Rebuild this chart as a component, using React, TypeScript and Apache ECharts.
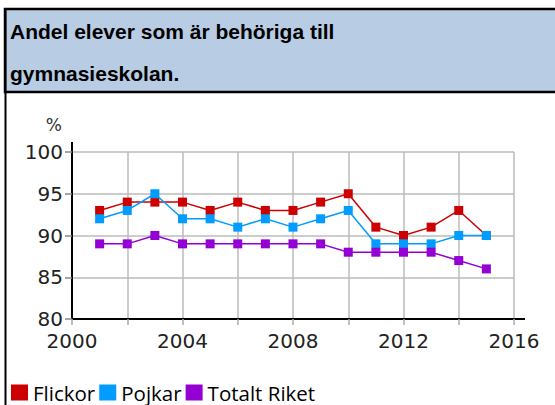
import React, { useEffect, useRef } from "react";
import * as echarts from "echarts";

const years = [2001, 2002, 2003, 2004, 2005, 2006, 2007, 2008, 2009, 2010, 2011, 2012, 2013, 2014, 2015];
const flickor = [93, 94, 94, 94, 93, 94, 93, 93, 94, 95, 91, 90, 91, 93, 90];
const pojkar = [92, 93, 95, 92, 92, 91, 92, 91, 92, 93, 89, 89, 89, 90, 90];
const totalt = [89, 89, 90, 89, 89, 89, 89, 89, 89, 88, 88, 88, 88, 87, 86];
const seriesNames = ["Flickor", "Pojkar", "Totalt Riket"];
const seriesColors = ["#cc0000", "#009cff", "#9400d3"];
const titleText = "Andel elever som är behöriga till\ngymnasieskolan.";

export default function App() {
  const ref = useRef<HTMLDivElement>(null);
  useEffect(() => {
    if (!ref.current) return;
    const chart = echarts.init(ref.current, undefined, { renderer: "svg" });
    const data = [flickor, pojkar, totalt];
    chart.setOption({
      animation: false,
      backgroundColor: "#fff",
      title: {
        text: titleText,
        left: 10,
        top: 10,
        padding: 0,
        textStyle: {
          fontFamily: "Liberation Sans",
          fontWeight: "bold",
          fontSize: 21,
          lineHeight: 42,
          color: "#000",
        },
      },
      graphic: [
        { type: "rect", z: -10, shape: { x: 5, y: 9, width: 560, height: 83 }, style: { fill: "#b8cce4", stroke: "#000", lineWidth: 2.5 } },
        { type: "line", z: -5, shape: { x1: 5.5, y1: 9, x2: 5.5, y2: 405 }, style: { stroke: "#000", lineWidth: 2 } },
        { type: "line", shape: { x1: 72, y1: 142, x2: 72, y2: 152 }, style: { stroke: "#000", lineWidth: 2 } },
        { type: "line", shape: { x1: 514, y1: 319, x2: 525, y2: 319 }, style: { stroke: "#000", lineWidth: 2 } },
      ],
      legend: {
        left: 11,
        top: 382,
        icon: "rect",
        itemWidth: 17,
        itemHeight: 16,
        itemGap: 4,
        padding: 0,
        data: seriesNames,
        textStyle: { fontFamily: "Open Sans", fontSize: 20.5, lineHeight: 18, color: "#000" },
      },
      grid: { left: 72, right: 41, top: 152, bottom: 86 },
      xAxis: {
        type: "value",
        min: 2000,
        max: 2016,
        interval: 2,
        axisLine: { show: true, lineStyle: { color: "#000", width: 2 } },
        axisTick: { show: true, length: 6, lineStyle: { color: "#aaa", width: 1.5 } },
        axisLabel: {
          margin: 12,
          fontFamily: "DejaVu Sans",
          fontSize: 20,
          color: "#222",
          formatter: (v: number) => (v % 4 === 0 ? String(v) : ""),
        },
        splitLine: { show: true, lineStyle: { color: "#bbb", width: 1.5 } },
      },
      yAxis: {
        type: "value",
        name: "%",
        nameLocation: "end",
        nameGap: 19,
        nameTextStyle: { fontFamily: "DejaVu Sans", fontSize: 17, color: "#333", align: "right", padding: [0, 10, 0, 0] },
        min: 80,
        max: 100,
        interval: 5,
        axisLine: { show: true, lineStyle: { color: "#000", width: 2 } },
        axisTick: { show: true, length: 7, lineStyle: { color: "#888", width: 1.5 } },
        axisLabel: { margin: 9, fontFamily: "DejaVu Sans", fontSize: 20, color: "#222" },
        splitLine: { show: true, lineStyle: { color: "#bbb", width: 1.5 } },
      },
      series: seriesNames.map((name, i) => ({
        name,
        type: "line",
        data: years.map((y, j) => [y, data[i][j]]),
        symbol: "rect",
        symbolSize: 9,
        lineStyle: { color: seriesColors[i], width: 1.5 },
        itemStyle: { color: seriesColors[i] },
        z: 2 + i,
      })),
    });
    return () => chart.dispose();
  }, []);
  return <div ref={ref} style={{ position: "fixed", left: 0, top: 0, width: 555, height: 405 }} />;
}
